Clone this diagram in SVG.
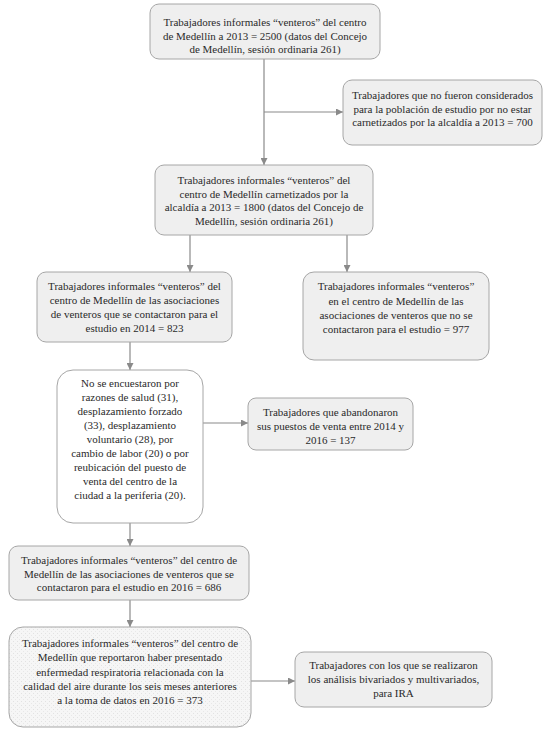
<svg xmlns="http://www.w3.org/2000/svg" width="551" height="734" viewBox="0 0 551 734">
<defs>
<marker id="ah" viewBox="0 0 10 10" refX="10" refY="5" markerWidth="7" markerHeight="7" markerUnits="userSpaceOnUse" orient="auto">
<path d="M0,0 L10,5 L0,10 z" fill="#8a8a8a"/>
</marker>
<pattern id="dots" width="4" height="4" patternUnits="userSpaceOnUse">
<rect width="4" height="4" fill="#f6f6f6"/>
<rect x="1" y="1" width="1" height="1" fill="#e2e2e2"/>
<rect x="3" y="3" width="1" height="1" fill="#e8e8e8"/>
</pattern>
</defs>
<style>
.box{fill:#efefef;stroke:#a6a6a6;stroke-width:1}
.t{font-family:"Liberation Serif","Times New Roman",serif;font-size:11px;fill:#2a2a2a;text-anchor:middle}
.c{stroke:#8a8a8a;stroke-width:1.2;fill:none}
</style>
<rect width="551" height="734" fill="#ffffff"/>
<g id="connectors">
<path class="c" d="M264,59 V165" marker-end="url(#ah)"/>
<path class="c" d="M264,112 H343" marker-end="url(#ah)"/>
<path class="c" d="M190,235 V272" marker-end="url(#ah)"/>
<path class="c" d="M347,235 V272" marker-end="url(#ah)"/>
<path class="c" d="M130,342 V370" marker-end="url(#ah)"/>
<path class="c" d="M203,423 H248" marker-end="url(#ah)"/>
<path class="c" d="M130,523 V546" marker-end="url(#ah)"/>
<path class="c" d="M130,600 V627" marker-end="url(#ah)"/>
<path class="c" d="M251,681 H295" marker-end="url(#ah)"/>
</g>
<g id="n1">
<rect class="box" x="150" y="4" width="230" height="55" rx="9"/>
<text class="t" x="265" y="26">Trabajadores informales “venteros” del centro</text>
<text class="t" x="265" y="39.5">de Medellín a 2013 = 2500 (datos del Concejo</text>
<text class="t" x="265" y="53">de Medellín, sesión ordinaria 261)</text>
</g>
<g id="n2">
<rect class="box" x="343" y="80" width="199" height="65" rx="9"/>
<text class="t" x="442.5" y="99">Trabajadores que no fueron considerados</text>
<text class="t" x="442.5" y="112.5">para la población de estudio por no estar</text>
<text class="t" x="442.5" y="126">carnetizados por la alcaldía a 2013 = 700</text>
</g>
<g id="n3">
<rect class="box" x="155" y="165" width="218" height="70" rx="9"/>
<text class="t" x="264" y="184">Trabajadores informales “venteros” del</text>
<text class="t" x="264" y="197.5">centro de Medellín carnetizados por la</text>
<text class="t" x="264" y="211">alcaldía a 2013 = 1800 (datos del Concejo de</text>
<text class="t" x="264" y="224.5">Medellín, sesión ordinaria 261)</text>
</g>
<g id="n4">
<rect class="box" x="37" y="272" width="195" height="70" rx="9"/>
<text class="t" x="134.5" y="290">Trabajadores informales “venteros” del</text>
<text class="t" x="134.5" y="304">centro de Medellín de las asociaciones</text>
<text class="t" x="134.5" y="318">de venteros que se contactaron para el</text>
<text class="t" x="134.5" y="332">estudio en 2014 = 823</text>
</g>
<g id="n5">
<rect class="box" x="303" y="272" width="186" height="88" rx="11"/>
<text class="t" x="396" y="290">Trabajadores informales “venteros”</text>
<text class="t" x="396" y="305">en el centro de Medellín de las</text>
<text class="t" x="396" y="319">asociaciones de venteros que no se</text>
<text class="t" x="396" y="333">contactaron para el estudio = 977</text>
</g>
<g id="n6">
<rect x="57" y="370" width="146" height="153" rx="16" fill="#ffffff" stroke="#a6a6a6"/>
<text class="t" x="130" y="387">No se encuestaron por</text>
<text class="t" x="130" y="401">razones de salud (31),</text>
<text class="t" x="130" y="415">desplazamiento forzado</text>
<text class="t" x="130" y="429">(33), desplazamiento</text>
<text class="t" x="130" y="443">voluntario (28), por</text>
<text class="t" x="130" y="457">cambio de labor (20) o por</text>
<text class="t" x="130" y="471">reubicación del puesto de</text>
<text class="t" x="130" y="485">venta del centro de la</text>
<text class="t" x="130" y="499">ciudad a la periferia (20).</text>
</g>
<g id="n7">
<rect class="box" x="248" y="398" width="165" height="52" rx="8"/>
<text class="t" x="330.5" y="416">Trabajadores que abandonaron</text>
<text class="t" x="330.5" y="430">sus puestos de venta entre 2014 y</text>
<text class="t" x="330.5" y="444">2016 = 137</text>
</g>
<g id="n8">
<rect class="box" x="9" y="546" width="240" height="54" rx="9"/>
<text class="t" x="129" y="564">Trabajadores informales “venteros” del centro de</text>
<text class="t" x="129" y="577.5">Medellín de las asociaciones de venteros que se</text>
<text class="t" x="129" y="591">contactaron para el estudio en 2016 = 686</text>
</g>
<g id="n9">
<rect x="9" y="627" width="242" height="100" rx="14" fill="url(#dots)" stroke="#a6a6a6"/>
<text class="t" x="130" y="647">Trabajadores informales “venteros” del centro de</text>
<text class="t" x="130" y="661">Medellín que reportaron haber presentado</text>
<text class="t" x="130" y="676">enfermedad respiratoria relacionada con la</text>
<text class="t" x="130" y="690">calidad del aire durante los seis meses anteriores</text>
<text class="t" x="130" y="704">a la toma de datos en 2016 = 373</text>
</g>
<g id="n10">
<rect class="box" x="295" y="652" width="197" height="55" rx="9"/>
<text class="t" x="393.5" y="669">Trabajadores con los que se realizaron</text>
<text class="t" x="393.5" y="683">los análisis bivariados y multivariados,</text>
<text class="t" x="393.5" y="697">para IRA</text>
</g>
</svg>
